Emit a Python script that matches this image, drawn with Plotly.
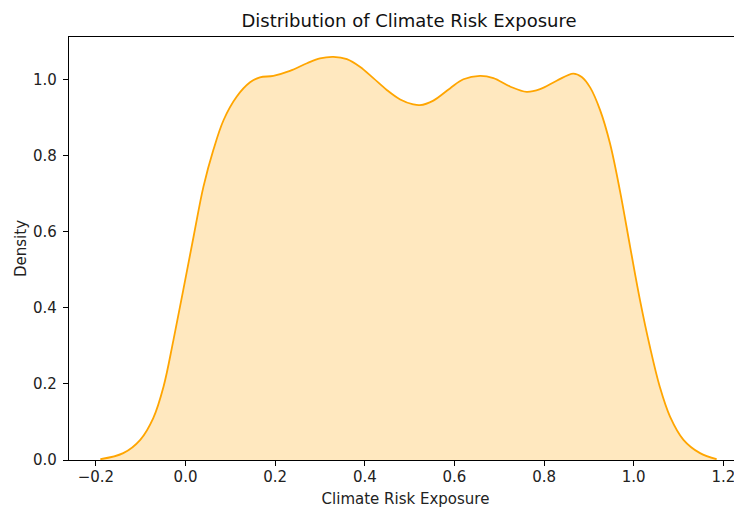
import plotly.graph_objects as go

# Density curve (x = Climate Risk Exposure, y = density)
exposure = [-0.190, -0.139, -0.101, -0.072, -0.049, -0.027, -0.005, 0.018, 0.040, 0.062,
            0.085, 0.114, 0.144, 0.166, 0.196, 0.233, 0.271, 0.300, 0.330, 0.360,
            0.389, 0.419, 0.449, 0.479, 0.508, 0.523, 0.553, 0.590, 0.620, 0.657,
            0.687, 0.724, 0.761, 0.791, 0.828, 0.865, 0.884, 0.903, 0.925, 0.947,
            0.969, 0.992, 1.014, 1.036, 1.058, 1.081, 1.111, 1.148, 1.185]
density = [0.002, 0.018, 0.053, 0.110, 0.193, 0.315, 0.447, 0.587, 0.718, 0.814,
           0.893, 0.954, 0.992, 1.005, 1.009, 1.022, 1.042, 1.055, 1.059, 1.053,
           1.033, 1.003, 0.972, 0.947, 0.934, 0.932, 0.944, 0.976, 1.000, 1.009,
           1.003, 0.981, 0.967, 0.974, 0.996, 1.015, 1.006, 0.978, 0.919, 0.832,
           0.709, 0.560, 0.420, 0.298, 0.193, 0.114, 0.053, 0.018, 0.002]

x_ticks = [-0.2, 0.0, 0.2, 0.4, 0.6, 0.8, 1.0, 1.2]
y_ticks = [0.0, 0.2, 0.4, 0.6, 0.8, 1.0]

title_text = "Distribution of Climate Risk Exposure"
x_label = "Climate Risk Exposure"
y_label = "Density"

FONT = "DejaVu Sans"

fig = go.Figure()
fig.add_trace(go.Scatter(
    x=exposure, y=density,
    mode="lines",
    line=dict(color="orange", width=1.8, shape="spline", smoothing=1.0),
    fill="tozeroy",
    fillcolor="rgba(255,165,0,0.25)",
    hoverinfo="skip",
    showlegend=False,
))

axis_common = dict(
    showgrid=False, zeroline=False, automargin=False,
    showline=True, linecolor="black", linewidth=1.2,
    ticks="outside", ticklen=5, tickwidth=1.2, tickcolor="black",
    tickfont=dict(family=FONT, size=15, color="#222"),
    tickformat=".1f",
)

# The page body adds an 8px offset, so the figure is sized to fill the window from there.
fig.update_layout(
    width=734, height=500,
    margin=dict(l=61, r=0, t=29, b=48, autoexpand=False),
    paper_bgcolor="white", plot_bgcolor="white",
    font=dict(family=FONT, color="#222"),
    title=dict(text=title_text, font=dict(family=FONT, size=18, color="#111"),
               xref="container", yref="container", x=401 / 734, y=1 - 12.5 / 500,
               xanchor="center", yanchor="middle"),
    xaxis=dict(axis_common, range=[-0.260, 1.2416], tickvals=x_ticks, mirror=True,
               ticklabelstandoff=-2,
               title=dict(text=x_label, font=dict(family=FONT, size=15, color="#222"), standoff=11)),
    yaxis=dict(axis_common, range=[0, 1.111], tickvals=y_ticks, ticklabelstandoff=3,
               title=dict(text=y_label, font=dict(family=FONT, size=15, color="#222"), standoff=2)),
)

fig.write_html("out.html")
